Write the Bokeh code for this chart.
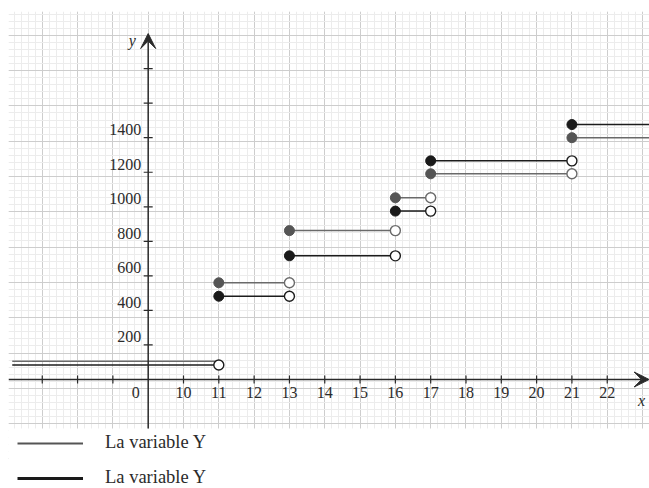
import numpy as np
from bokeh.plotting import figure
from bokeh.models import (ColumnDataSource, FixedTicker, Arrow, VeeHead, Legend, LegendItem,
                          BoxAnnotation)
from bokeh.core.properties import value
from bokeh.embed import file_html
from bokeh.resources import INLINE

# ---------------- data ----------------
breaks = [11, 13, 16, 17, 21]          # x values where both step functions jump
first_start = 5.15                      # left end of the first step
last_end = 24                           # right end of the last step (runs off the chart)
y_gray = [105, 560, 862, 1052, 1191, 1400]
y_black = [84, 482, 716, 975, 1266, 1476]
origin_x = 9                            # the origin, labelled "0" (broken axis)
x_ticks = [10, 11, 12, 13, 14, 15, 16, 17, 18, 19, 20, 21, 22]
x_tick_labels = ["10", "11", "12", "13", "14", "15", "16", "17", "18", "19", "20", "21", "22"]
x_ticks_unlabeled = [6, 7, 8]
y_ticks = [200, 400, 600, 800, 1000, 1200, 1400, 1600, 1800]
y_tick_labels = ["200", "400", "600", "800", "1000", "1200", "1400"]
legend_labels = ["La variable Y", "La variable Y"]

# ---------------- layout constants ----------------
X_RANGE = (5.044, 23.197)
Y_RANGE = (-631.1, 2130.7)
GRID_BOTTOM = -283.7        # graph paper stops here; legend lives below
Y_ARROW_TIP = 2003
FONT = "Liberation Serif"
TXT = "#2b2b2b"
AX = "#2a2a2a"
GRAY_LINE, GRAY_DOT = "#6a6a6a", "#555555"
BLACK_LINE, BLACK_DOT = "#1c1c1c", "#1a1a1a"

p = figure(width=649, height=488, x_range=X_RANGE, y_range=Y_RANGE,
           output_backend="svg", toolbar_location=None,
           x_axis_location=None, y_axis_location=None,
           min_border_left=8, min_border_right=0, min_border_top=11, min_border_bottom=0)
p.outline_line_color = None

# graph-paper grid
gx_major = list(np.arange(5, 24, 1.0))
gx_minor = list(np.arange(5, 24, 0.2))
gy_step = 204.4
gy_major = list(153.4 + gy_step * np.arange(-3, 11))
gy_minor = list(153.4 + gy_step / 5 * np.arange(-15, 55))
p.xgrid.ticker = FixedTicker(ticks=gx_major, minor_ticks=gx_minor)
p.ygrid.ticker = FixedTicker(ticks=gy_major, minor_ticks=gy_minor)
for g in (p.xgrid, p.ygrid):
    g.grid_line_color = "#cdcdcd"
    g.grid_line_width = 1
    g.minor_grid_line_color = "#ececec"
    g.minor_grid_line_width = 1

# blank area under the graph paper, for the legend
p.add_layout(BoxAnnotation(top=GRID_BOTTOM, fill_color="white", fill_alpha=1.0,
                           line_alpha=0))

# axes with arrows
p.add_layout(Arrow(end=VeeHead(size=15, fill_color=AX, line_color=AX),
                   x_start=X_RANGE[0], y_start=0, x_end=X_RANGE[1] - 0.01, y_end=0,
                   line_color=AX, line_width=1.5))
p.add_layout(Arrow(end=VeeHead(size=15, fill_color=AX, line_color=AX),
                   x_start=origin_x, y_start=GRID_BOTTOM, x_end=origin_x, y_end=Y_ARROW_TIP,
                   line_color=AX, line_width=1.5))

# tick marks
all_xt = x_ticks_unlabeled + x_ticks
p.scatter(x=all_xt, y=[0] * len(all_xt), marker="dash", angle=np.pi / 2, size=8,
          line_color=AX, line_width=1.2)
p.scatter(x=[origin_x] * len(y_ticks), y=y_ticks, marker="dash", size=9,
          line_color=AX, line_width=1.2)

# tick labels
p.text(x=x_ticks, y=[0] * len(x_ticks), text=x_tick_labels, text_align="center",
       text_baseline="middle", y_offset=13, text_font=value(FONT), text_font_size="16px",
       text_color=TXT)
p.text(x=[origin_x], y=[0], text=["0"], text_align="center", text_baseline="middle",
       x_offset=-12.5, y_offset=13, text_font=value(FONT), text_font_size="16px", text_color=TXT)
p.text(x=[origin_x] * len(y_tick_labels), y=y_ticks[:len(y_tick_labels)], text=y_tick_labels,
       text_align="right", text_baseline="middle", x_offset=-7, y_offset=-8,
       text_font=value(FONT), text_font_size="16px", text_color=TXT)
p.text(x=[X_RANGE[1]], y=[0], text=["x"], text_align="center", text_baseline="middle",
       x_offset=-8, y_offset=21, text_font=value(FONT), text_font_size="16px",
       text_font_style="italic", text_color=TXT)
p.text(x=[origin_x], y=[Y_ARROW_TIP], text=["y"], text_align="center", text_baseline="middle",
       x_offset=-16, y_offset=7, text_font=value(FONT), text_font_size="16px",
       text_font_style="italic", text_color=TXT)

# step functions
x0 = [first_start] + breaks
x1 = breaks + [last_end]
series = ((y_gray, GRAY_LINE, GRAY_DOT, 1), (y_black, BLACK_LINE, BLACK_DOT, 0))
for ys, lc, dc, skip in series:
    src = ColumnDataSource(dict(x0=x0, x1=x1, y=ys))
    p.segment(x0="x0", y0="y", x1="x1", y1="y", source=src, line_color=lc, line_width=1.5)
    p.scatter(x=breaks[skip:], y=ys[skip:-1], size=10, fill_color="white", line_color=lc,
              line_width=1.4)
    p.scatter(x=breaks, y=ys[1:], size=10, fill_color=dc, line_color=dc, line_width=1)

# legend (proxy renderers that draw nothing in the plot)
lg1 = p.line(x=[np.nan, np.nan], y=[np.nan, np.nan], line_color="#555555", line_width=1.8)
lg2 = p.line(x=[np.nan, np.nan], y=[np.nan, np.nan], line_color="#1a1a1a", line_width=2.8)
legend = Legend(items=[LegendItem(label=legend_labels[0], renderers=[lg1]),
                       LegendItem(label=legend_labels[1], renderers=[lg2])],
                location=(9, 0), orientation="vertical", margin=0, padding=0,
                spacing=14, glyph_width=66, glyph_height=20, label_height=20,
                label_standoff=22, label_text_font=FONT, label_text_font_size="18.5px",
                label_text_color=TXT, border_line_alpha=0, background_fill_alpha=0)
p.add_layout(legend)

open("out.html", "w").write(file_html(p, INLINE))
